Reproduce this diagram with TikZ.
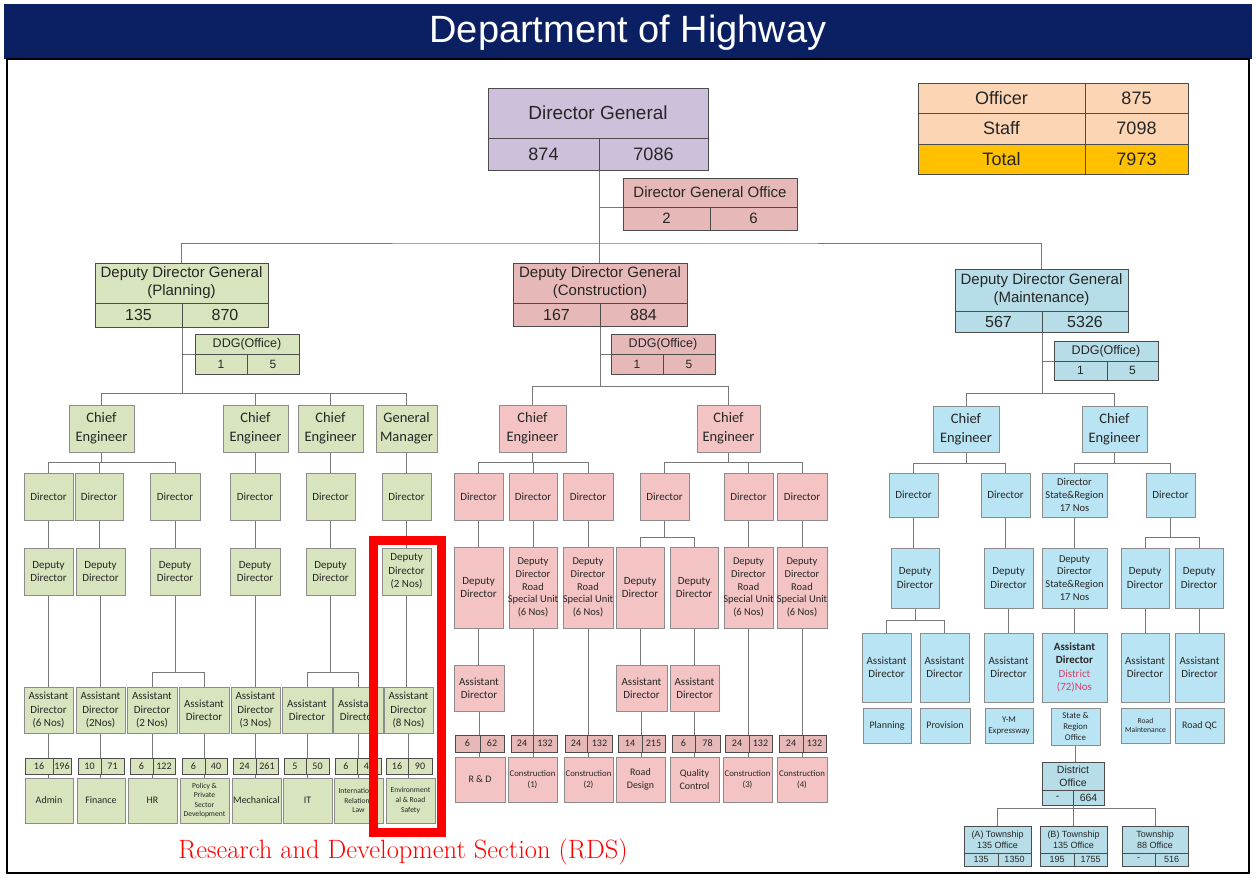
\documentclass[tikz,border=0pt]{standalone}
\usepackage{fontspec}
\newfontfamily\arl{Liberation Sans}
\newfontfamily\carl{Carlito}
\usetikzlibrary{shadows}
\definecolor{navy}{RGB}{11,31,99}
\definecolor{lav}{RGB}{204,192,218}
\definecolor{grn}{RGB}{215,228,189}
\definecolor{grnd}{RGB}{215,228,189}
\definecolor{pnk}{RGB}{244,196,196}
\definecolor{pnkd}{RGB}{230,185,184}
\definecolor{blu}{RGB}{185,228,243}
\definecolor{blud}{RGB}{183,221,232}
\definecolor{peach}{RGB}{252,213,181}
\definecolor{orng}{RGB}{255,192,0}
\definecolor{lnc}{RGB}{120,120,120}
\definecolor{dist}{RGB}{205,70,110}
\pgfdeclarelayer{back}
\pgfdeclarelayer{bg}
\pgfsetlayers{back,bg,main}
\tikzset{
 conn/.style={draw=lnc, line width=0.8pt},
 txt/.style={inner sep=0pt, outer sep=0pt, align=center, text=black!85},
 bb/.style={draw=black!45, line width=0.6pt, inner sep=0pt, outer sep=0pt},
 shd/.style={drop shadow={shadow xshift=1.3pt, shadow yshift=-1.3pt, opacity=0.25}},
 gbox/.style={bb, shd, fill=grn},
 pbox/.style={bb, shd, fill=pnk},
 bbox/.style={bb, shd, fill=blu},
 hdg/.style={draw=black!70, line width=0.7pt, inner sep=0pt, outer sep=0pt},
 gh/.style={hdg, fill=grnd},
 ph/.style={hdg, fill=pnkd},
 bh/.style={hdg, fill=blud},
 lh/.style={hdg, fill=lav},
 pch/.style={hdg, fill=peach},
 org/.style={hdg, fill=orng},
 fdg/.style={font=\arl\fontsize{19}{22}\selectfont},
 fdgn/.style={font=\arl\fontsize{18}{20}\selectfont},
 fddg/.style={font=\arl\fontsize{15}{18}\selectfont},
 fddgn/.style={font=\arl\fontsize{16}{18}\selectfont},
 foff/.style={font=\arl\fontsize{12.5}{14}\selectfont},
 foffn/.style={font=\arl\fontsize{12}{14}\selectfont},
 ftab/.style={font=\arl\fontsize{18}{20}\selectfont},
 fce/.style={font=\carl\fontsize{14.5}{19}\selectfont},
 fsm/.style={font=\carl\fontsize{11}{13.3}\selectfont},
 fsr/.style={font=\carl\fontsize{10.5}{12.7}\selectfont},
 fnum/.style={font=\carl\fontsize{10}{12}\selectfont},
 funit/.style={font=\carl\fontsize{10}{13}\selectfont},
 fcu/.style={font=\carl\fontsize{8.8}{11}\selectfont},
 ftiny/.style={font=\carl\fontsize{7.6}{9.6}\selectfont},
 ftw/.style={font=\arl\fontsize{9}{11}\selectfont},
 fdo/.style={font=\arl\fontsize{10.5}{13}\selectfont},
}
\newcommand\bx[8]{%
 \pgfmathsetmacro\bxcx{(#4+#6)/2}%
 \pgfmathsetmacro\bxcy{(#5+#7)/2}%
 \pgfmathsetmacro\bxw{#6-#4}%
 \pgfmathsetmacro\bxh{#7-#5}%
 \node[#1, minimum width=\bxw pt, minimum height=\bxh pt] (#3) at (\bxcx,\bxcy) {};%
 \node[txt, #2] (#3t) at (#3.center) {#8};}
\newcommand\tree[3]{%
 \coordinate (trbus) at (0,#2);%
 \draw[conn] (#1) -- (#1 |- trbus);%
 \foreach \ch in {#3}{\draw[conn] (#1 |- trbus) -| (\ch.north);}}
\newcommand\vl[2]{\draw[conn] (#1.south) -- (#1.south |- #2.north);}
\begin{document}
\begin{tikzpicture}[x=1pt, y=-1pt]
\useasboundingbox (0,0) rectangle (1256,881);
\begin{pgfonlayer}{back}
\fill[white] (0,0) rectangle (1256,881);
\end{pgfonlayer}
\fill[navy] (4,4) rectangle (1252,59);
\node[txt, text=white, font=\arl\fontsize{38}{40}\selectfont] (title) at (628,33) {Department of Highway};
\draw[black, line width=1.5pt] (7,59) rectangle (1249,873);

% ---- stats table
\bx{pch}{ftab}{st1a}{918}{83}{1085}{113}{Officer}
\bx{pch}{ftab}{st1b}{1085}{83}{1188}{113}{875}
\bx{pch}{ftab}{st2a}{918}{113}{1085}{144}{Staff}
\bx{pch}{ftab}{st2b}{1085}{113}{1188}{144}{7098}
\bx{org}{ftab}{st3a}{918}{144}{1085}{174}{Total}
\bx{org}{ftab}{st3b}{1085}{144}{1188}{174}{7973}

% ---- Director General
\bx{lh}{fdg}{dg}{488}{88}{708}{138}{Director General}
\bx{lh}{fdgn}{dgn1}{488}{138}{599}{170}{874}
\bx{lh}{fdgn}{dgn2}{599}{138}{708}{170}{7086}
\bx{ph}{fddg}{dgo}{623}{178}{797}{207}{Director General Office}
\bx{ph}{fddg}{dgon1}{623}{207}{710}{230}{2}
\bx{ph}{fddg}{dgon2}{710}{207}{797}{230}{6}

% ---- Planning
\bx{gh}{fddg}{pddg}{95}{263}{268}{303}{Deputy Director General\\(Planning)}
\bx{gh}{fddgn}{pddgn1}{95}{303}{182}{327}{135}
\bx{gh}{fddgn}{pddgn2}{182}{303}{268}{327}{870}
\bx{gh}{foff}{po}{195}{334}{299}{354}{DDG(Office)}
\bx{gh}{foffn}{pon1}{195}{354}{247}{374}{1}
\bx{gh}{foffn}{pon2}{247}{354}{299}{374}{5}

\bx{gbox}{fce}{pce1}{69}{405}{134}{452}{Chief\\Engineer}
\bx{gbox}{fce}{pce2}{223}{405}{288}{452}{Chief\\Engineer}
\bx{gbox}{fce}{pce3}{298}{405}{363}{452}{Chief\\Engineer}
\bx{gbox}{fce}{pgm}{376}{405}{437}{452}{General\\Manager}

\bx{gbox}{fsm}{pd1}{24}{473}{73}{520}{Director}
\bx{gbox}{fsm}{pd2}{75}{473}{123}{520}{Director}
\bx{gbox}{fsm}{pd3}{150}{473}{200}{520}{Director}
\bx{gbox}{fsm}{pd4}{230}{473}{280}{520}{Director}
\bx{gbox}{fsm}{pd5}{306}{473}{355}{520}{Director}
\bx{gbox}{fsm}{pd6}{382}{473}{431}{520}{Director}

\bx{gbox}{fsm}{pdd1}{24}{548}{73}{595}{Deputy\\Director}
\bx{gbox}{fsm}{pdd2}{76}{548}{125}{595}{Deputy\\Director}
\bx{gbox}{fsm}{pdd3}{150}{548}{200}{595}{Deputy\\Director}
\bx{gbox}{fsm}{pdd4}{230}{548}{280}{595}{Deputy\\Director}
\bx{gbox}{fsm}{pdd5}{306}{548}{355}{595}{Deputy\\Director}
\bx{gbox}{fsm}{pdd6}{382}{548}{431}{595}{Deputy\\Director\\(2 Nos)}

\bx{gbox}{fsm}{pad1}{24}{687}{73}{733}{Assistant\\Director\\(6 Nos)}
\bx{gbox}{fsm}{pad2}{76}{687}{125}{733}{Assistant\\Director\\(2Nos)}
\bx{gbox}{fsm}{pad3}{127}{687}{177}{733}{Assistant\\Director\\(2 Nos)}
\bx{gbox}{fsm}{pad4}{179}{687}{229}{733}{Assistant\\Director}
\bx{gbox}{fsm}{pad5}{231}{687}{280}{733}{Assistant\\Director\\(3 Nos)}
\bx{gbox}{fsm}{pad6}{282}{687}{332}{733}{Assistant\\Director}
\bx{gbox}{fsm}{pad7}{333}{687}{383}{733}{Assistant\\Director}
\bx{gbox}{fsm}{pad8}{384}{687}{433}{733}{Assistant\\Director\\(8 Nos)}

\bx{gbox}{funit}{pu1}{25}{778}{73}{823}{Admin}
\bx{gbox}{funit}{pu2}{77}{778}{125}{823}{Finance}
\bx{gbox}{funit}{pu3}{128}{778}{177}{823}{HR}
\bx{gbox}{ftiny}{pu4}{180}{778}{229}{823}{Policy \&\\Private\\Sector\\Development}
\bx{gbox}{funit}{pu5}{232}{778}{281}{823}{Mechanical}
\bx{gbox}{funit}{pu6}{283}{778}{332}{823}{IT}
\bx{gbox}{ftiny}{pu7}{334}{778}{383}{823}{International\\Relations\\Law}
\bx{gbox}{ftiny}{pu8}{386}{778}{435}{823}{Environment\\al \& Road\\Safety}

\bx{gh}{fnum}{pn1a}{25}{758}{53}{774}{16}
\bx{gh}{fnum}{pn1b}{53}{758}{71}{774}{196}
\bx{gh}{fnum}{pn2a}{78}{758}{101}{774}{10}
\bx{gh}{fnum}{pn2b}{101}{758}{124}{774}{71}
\bx{gh}{fnum}{pn3a}{130}{758}{153}{774}{6}
\bx{gh}{fnum}{pn3b}{153}{758}{175}{774}{122}
\bx{gh}{fnum}{pn4a}{182}{758}{205}{774}{6}
\bx{gh}{fnum}{pn4b}{205}{758}{227}{774}{40}
\bx{gh}{fnum}{pn5a}{233}{758}{256}{774}{24}
\bx{gh}{fnum}{pn5b}{256}{758}{278}{774}{261}
\bx{gh}{fnum}{pn6a}{284}{758}{306}{774}{5}
\bx{gh}{fnum}{pn6b}{306}{758}{329}{774}{50}
\bx{gh}{fnum}{pn7a}{335}{758}{357}{774}{6}
\bx{gh}{fnum}{pn7b}{357}{758}{381}{774}{4\,\,\,}
\bx{gh}{fnum}{pn8a}{386}{758}{408}{774}{16}
\bx{gh}{fnum}{pn8b}{408}{758}{432}{774}{90}

% ---- Construction
\bx{ph}{fddg}{cddg}{513}{263}{687}{303}{Deputy Director General\\(Construction)}
\bx{ph}{fddgn}{cddgn1}{513}{303}{600}{326}{167}
\bx{ph}{fddgn}{cddgn2}{600}{303}{687}{326}{884}
\bx{ph}{foff}{cdo}{611}{334}{715}{354}{DDG(Office)}
\bx{ph}{foffn}{cdon1}{611}{354}{663}{374}{1}
\bx{ph}{foffn}{cdon2}{663}{354}{715}{374}{5}

\bx{pbox}{fce}{cce1}{499}{405}{566}{452}{Chief\\Engineer}
\bx{pbox}{fce}{cce2}{697}{405}{760}{452}{Chief\\Engineer}

\bx{pbox}{fsm}{cd1}{454}{473}{503}{520}{Director}
\bx{pbox}{fsm}{cd2}{509}{473}{557}{520}{Director}
\bx{pbox}{fsm}{cd3}{563}{473}{613}{520}{Director}
\bx{pbox}{fsm}{cd4}{640}{473}{689}{520}{Director}
\bx{pbox}{fsm}{cd5}{724}{473}{773}{520}{Director}
\bx{pbox}{fsm}{cd6}{777}{473}{827}{520}{Director}

\bx{pbox}{fsm}{cdd1}{454}{547}{503}{628}{Deputy\\Director}
\bx{pbox}{fsr}{cdd2}{509}{547}{557}{628}{Deputy\\Director\\Road\\Special Unit\\(6 Nos)}
\bx{pbox}{fsr}{cdd3}{563}{547}{613}{628}{Deputy\\Director\\Road\\Special Unit\\(6 Nos)}
\bx{pbox}{fsm}{cdd4}{616}{547}{664}{628}{Deputy\\Director}
\bx{pbox}{fsm}{cdd5}{670}{547}{718}{628}{Deputy\\Director}
\bx{pbox}{fsr}{cdd6}{724}{547}{773}{628}{Deputy\\Director\\Road\\Special Unit\\(6 Nos)}
\bx{pbox}{fsr}{cdd7}{777}{547}{827}{628}{Deputy\\Director\\Road\\Special Unit\\(6 Nos)}

\bx{pbox}{fsm}{cad1}{454}{665}{504}{711}{Assistant\\Director}
\bx{pbox}{fsm}{cad2}{616}{665}{667}{711}{Assistant\\Director}
\bx{pbox}{fsm}{cad3}{670}{665}{719}{711}{Assistant\\Director}

\bx{pbox}{funit}{cu1}{455}{757}{505}{802}{R \& D}
\bx{pbox}{fcu}{cu2}{508}{757}{557}{802}{Construction\\(1)}
\bx{pbox}{fcu}{cu3}{564}{757}{613}{802}{Construction\\(2)}
\bx{pbox}{funit}{cu4}{616}{757}{665}{802}{Road\\Design}
\bx{pbox}{funit}{cu5}{670}{757}{719}{802}{Quality\\Control}
\bx{pbox}{fcu}{cu6}{723}{757}{772}{802}{Construction\\(3)}
\bx{pbox}{fcu}{cu7}{777}{757}{827}{802}{Construction\\(4)}

\bx{ph}{fnum}{cn1a}{455}{735}{480}{752}{6}
\bx{ph}{fnum}{cn1b}{480}{735}{504}{752}{62}
\bx{ph}{fnum}{cn2a}{511}{735}{533}{752}{24}
\bx{ph}{fnum}{cn2b}{533}{735}{557}{752}{132}
\bx{ph}{fnum}{cn3a}{565}{735}{587}{752}{24}
\bx{ph}{fnum}{cn3b}{587}{735}{612}{752}{132}
\bx{ph}{fnum}{cn4a}{618}{735}{642}{752}{14}
\bx{ph}{fnum}{cn4b}{642}{735}{665}{752}{215}
\bx{ph}{fnum}{cn5a}{672}{735}{695}{752}{6}
\bx{ph}{fnum}{cn5b}{695}{735}{720}{752}{78}
\bx{ph}{fnum}{cn6a}{725}{735}{749}{752}{24}
\bx{ph}{fnum}{cn6b}{749}{735}{772}{752}{132}
\bx{ph}{fnum}{cn7a}{779}{735}{803}{752}{24}
\bx{ph}{fnum}{cn7b}{803}{735}{826}{752}{132}

% ---- Maintenance
\bx{bh}{fddg}{mddg}{955}{269}{1128}{311}{Deputy Director General\\(Maintenance)}
\bx{bh}{fddgn}{mddgn1}{955}{311}{1042}{332}{567}
\bx{bh}{fddgn}{mddgn2}{1042}{311}{1128}{332}{5326}
\bx{bh}{foff}{mdo}{1054}{341}{1158}{361}{DDG(Office)}
\bx{bh}{foffn}{mdon1}{1054}{361}{1107}{380}{1}
\bx{bh}{foffn}{mdon2}{1107}{361}{1158}{380}{5}

\bx{bbox}{fce}{mce1}{933}{406}{999}{452}{Chief\\Engineer}
\bx{bbox}{fce}{mce2}{1082}{406}{1147}{452}{Chief\\Engineer}

\bx{bbox}{fsm}{md1}{889}{473}{938}{517}{Director}
\bx{bbox}{fsm}{md2}{981}{473}{1030}{517}{Director}
\bx{bbox}{fsr}{md3}{1042}{473}{1107}{517}{Director\\State\&Region\\17 Nos}
\bx{bbox}{fsm}{md4}{1146}{473}{1195}{517}{Director}

\bx{bbox}{fsm}{mdd1}{891}{548}{939}{608}{Deputy\\Director}
\bx{bbox}{fsm}{mdd2}{984}{548}{1033}{608}{Deputy\\Director}
\bx{bbox}{fsr}{mdd3}{1042}{548}{1107}{608}{Deputy\\Director\\State\&Region\\17 Nos}
\bx{bbox}{fsm}{mdd4}{1121}{548}{1169}{608}{Deputy\\Director}
\bx{bbox}{fsm}{mdd5}{1175}{548}{1223}{608}{Deputy\\Director}

\bx{bbox}{fsm}{mad1}{862}{633}{911}{702}{Assistant\\Director}
\bx{bbox}{fsm}{mad2}{920}{633}{969}{702}{Assistant\\Director}
\bx{bbox}{fsm}{mad3}{984}{633}{1033}{702}{Assistant\\Director}
\bx{bbox}{fsm}{mad4}{1042}{633}{1107}{702}{\textbf{Assistant}\\\textbf{Director}\\\textcolor{dist}{District}\\\textcolor{dist}{(72)Nos}}
\bx{bbox}{fsm}{mad5}{1121}{633}{1169}{702}{Assistant\\Director}
\bx{bbox}{fsm}{mad6}{1175}{633}{1224}{702}{Assistant\\Director}

\bx{bbox}{funit}{mu1}{863}{708}{911}{743}{Planning}
\bx{bbox}{funit}{mu2}{920}{708}{970}{743}{Provision}
\bx{bbox}{fcu}{mu3}{985}{708}{1033}{743}{Y-M\\Expressway}
\bx{bbox}{fcu}{mu4}{1051}{708}{1100}{745}{State \&\\Region\\Office}
\bx{bbox}{ftiny}{mu5}{1121}{708}{1170}{743}{Road\\Maintenance}
\bx{bbox}{funit}{mu6}{1175}{708}{1224}{743}{Road QC}

\bx{bh}{fdo}{dof}{1042}{762}{1104}{790}{District\\Office}
\bx{bh}{fdo}{dofn1}{1042}{790}{1073}{805}{-}
\bx{bh}{fdo}{dofn2}{1073}{790}{1104}{805}{664}

\bx{bh}{ftw}{ta}{964}{826}{1031}{853}{(A) Township\\135 Office}
\bx{bh}{ftw}{tan1}{964}{853}{998}{866}{135}
\bx{bh}{ftw}{tan2}{998}{853}{1031}{866}{1350}
\bx{bh}{ftw}{tb}{1040}{826}{1107}{853}{(B) Township\\135 Office}
\bx{bh}{ftw}{tbn1}{1040}{853}{1074}{866}{195}
\bx{bh}{ftw}{tbn2}{1074}{853}{1107}{866}{1755}
\bx{bh}{ftw}{tc}{1122}{826}{1188}{853}{Township\\88 Office}
\bx{bh}{ftw}{tcn1}{1122}{853}{1155}{866}{-}
\bx{bh}{ftw}{tcn2}{1155}{853}{1188}{866}{516}

% ---- connectors
\begin{pgfonlayer}{bg}
\coordinate (mb) at (599,243);
\draw[conn] (pddg.north) |- (mb) -| (mddg.north);
\draw[conn] (dgn1.south east) -- (dgn1.south east |- cddg.north);
\draw[conn] (dgon1.north west) -- (dgon1.north west -| dgn1.south east);
% planning
\draw[conn] (pon1.north west) -- (pon1.north west -| pddgn1.south east);
\tree{pddgn1.south east}{393}{pce1,pce2,pce3,pgm}
\tree{pce1.south}{462}{pd1,pd2,pd3}
\vl{pce2}{pd4} \vl{pce3}{pd5} \vl{pgm}{pd6}
\vl{pd1}{pdd1} \vl{pd2}{pdd2} \vl{pd3}{pdd3} \vl{pd4}{pdd4} \vl{pd5}{pdd5} \vl{pd6}{pdd6}
\vl{pdd1}{pad1} \vl{pdd2}{pad2} \vl{pdd4}{pad5} \vl{pdd6}{pad8}
\tree{pdd3.south}{672}{pad3,pad4}
\tree{pdd5.south}{672}{pad6,pad7}
\vl{pad1}{pu1} \vl{pad2}{pu2} \vl{pad3}{pu3} \vl{pad4}{pu4}
\vl{pad5}{pu5} \vl{pad6}{pu6} \vl{pad7}{pu7} \vl{pad8}{pu8}
% construction
\draw[conn] (cdon1.north west) -- (cdon1.north west -| cddgn1.south east);
\tree{cddgn1.south east}{386}{cce1,cce2}
\tree{cce1.south}{462}{cd1,cd2,cd3}
\tree{cce2.south}{462}{cd4,cd5,cd6}
\vl{cd1}{cdd1} \vl{cd2}{cdd2} \vl{cd3}{cdd3} \vl{cd5}{cdd6} \vl{cd6}{cdd7}
\tree{cd4.south}{537}{cdd4,cdd5}
\vl{cdd1}{cad1} \vl{cdd4}{cad2} \vl{cdd5}{cad3}
\vl{cad1}{cu1} \vl{cdd2}{cu2} \vl{cdd3}{cu3} \vl{cad2}{cu4} \vl{cad3}{cu5} \vl{cdd6}{cu6} \vl{cdd7}{cu7}
% maintenance
\draw[conn] (mdon1.north west) -- (mdon1.north west -| mddgn1.south east);
\tree{mddgn1.south east}{393}{mce1,mce2}
\tree{mce1.south}{463}{md1,md2}
\tree{mce2.south}{463}{md3,md4}
\vl{md1}{mdd1} \vl{md2}{mdd2} \vl{md3}{mdd3}
\tree{md4.south}{537}{mdd4,mdd5}
\tree{mdd1.south}{620}{mad1,mad2}
\vl{mdd2}{mad3} \vl{mdd3}{mad4} \vl{mdd4}{mad5} \vl{mdd5}{mad6}
\vl{mu4}{dof}
\tree{dofn1.south east}{808}{ta,tb,tc}
\end{pgfonlayer}

% ---- RDS highlight
\node[draw=red, line width=8.5pt, inner sep=0pt, minimum width=68pt, minimum height=292pt] (rds) at (407.5,686.5) {};
\node[txt, text=red, font=\fontsize{26.5}{28}\selectfont] (rdscap) at (403,852) {Research and Development Section (RDS)};
\end{tikzpicture}
\end{document}
